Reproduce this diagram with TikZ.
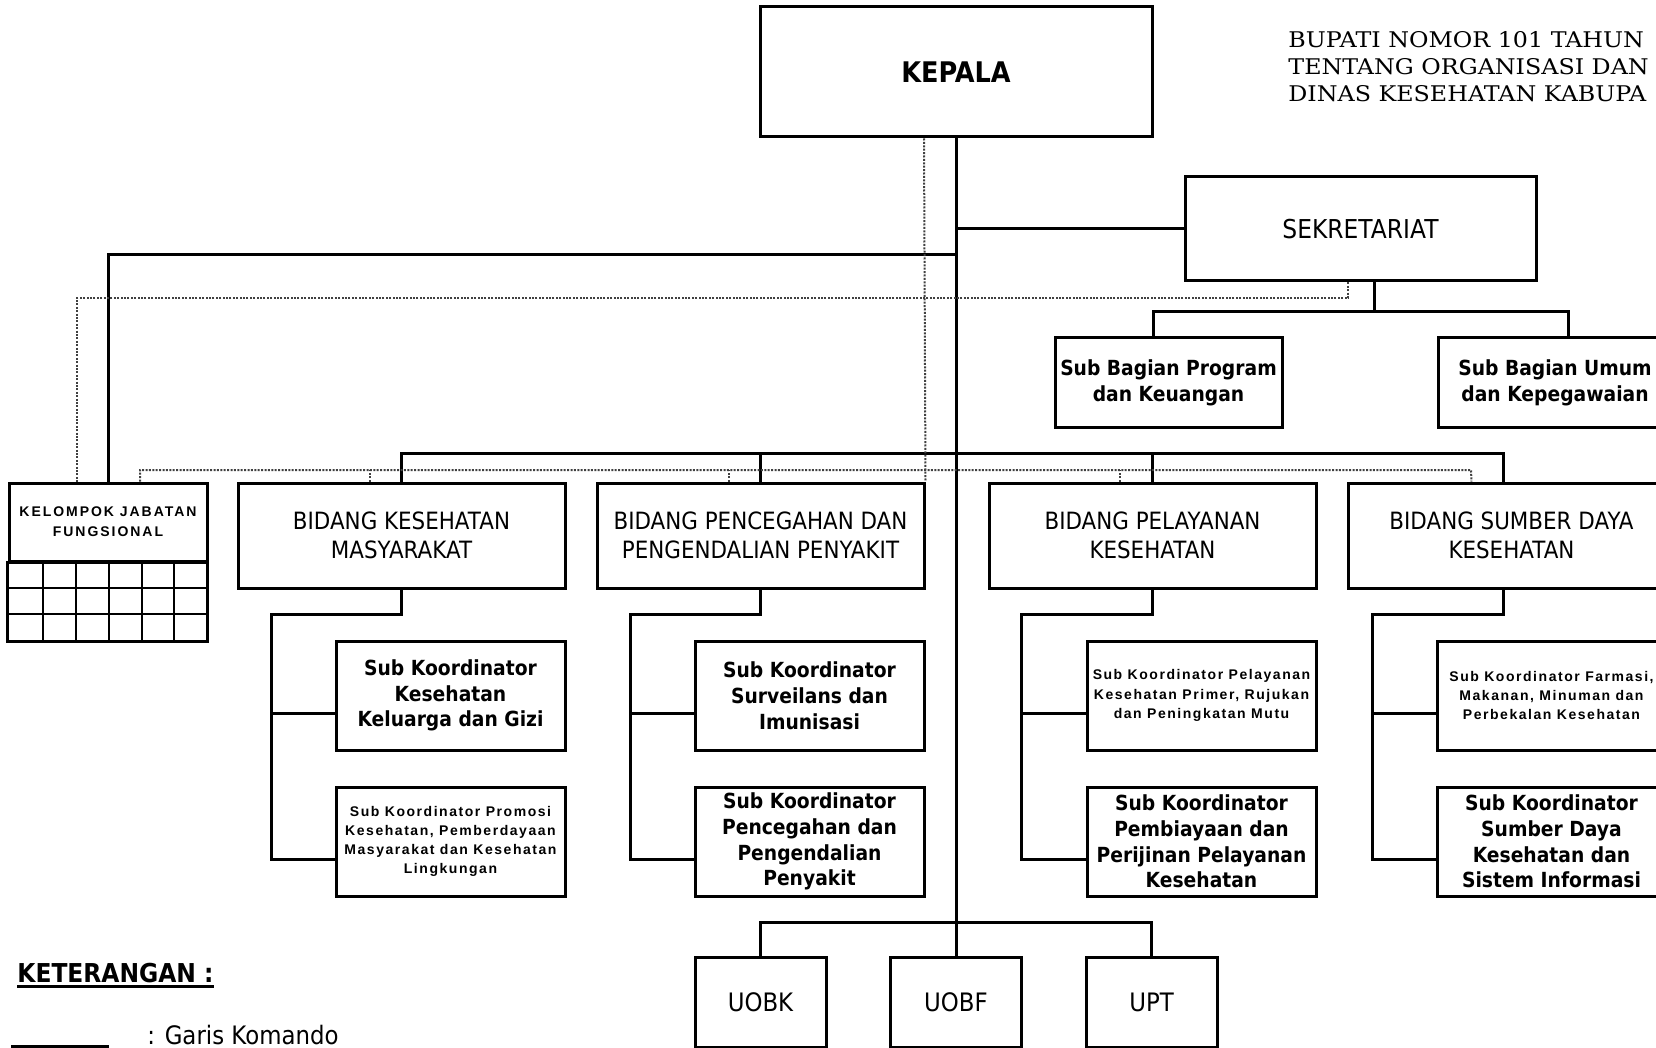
\documentclass[tikz,border=0pt]{standalone}
\usepackage{fontspec}
\setmainfont{DejaVu Sans}[FakeStretch=0.9]
\newfontfamily\spasifont{Liberation Sans}[LetterSpace=11]
\newfontfamily\kjffont{Liberation Sans}[LetterSpace=14]
\newfontfamily\kopfont{DejaVu Serif}[FakeStretch=1.1]

\begin{document}
\begin{tikzpicture}[x=0.5pt,y=-0.5pt,
 kotak/.style={draw,line width=1.5pt,inner sep=1pt,align=center},
 bidang/.style={kotak,minimum width=163.5pt,minimum height=52.5pt,font=\fontsize{11.9}{14.3}\selectfont},
 subkor/.style={kotak,minimum width=114.5pt,minimum height=54.5pt,font=\fontsize{10.4}{12.9}\selectfont\bfseries},
 subkecil/.style={kotak,minimum width=114.5pt,minimum height=54.5pt,font=\spasifont\fontsize{7}{9.6}\selectfont\bfseries},
 unit/.style={kotak,minimum width=65.5pt,minimum height=45pt,font=\fontsize{12.7}{15}\selectfont},
 komando/.style={line width=1.5pt},
 koordinasi/.style={line width=1pt,black!75,dash pattern=on 1pt off 0.7pt}]
 \useasboundingbox (0,0) rectangle (1656,1048);
 \clip (0,0) rectangle (1656,1048);

 % pimpinan dan sekretariat
 \node[kotak,minimum width=196pt,minimum height=65pt,font=\fontsize{14.2}{17}\selectfont\bfseries] (kepala) at (956,72) {KEPALA};
 \node[kotak,minimum width=175.5pt,minimum height=52pt,font=\fontsize{13}{15}\selectfont] (sekretariat) at (1360.5,229) {SEKRETARIAT};
 \node[subkor,minimum width=113.5pt,minimum height=45pt,font=\fontsize{10.4}{13}\selectfont\bfseries] (subprogram) at (1168.5,383) {Sub Bagian Program\\dan Keuangan};
 \node[subkor,minimum width=117pt,minimum height=45pt,font=\fontsize{10.4}{13}\selectfont\bfseries] (subumum) at (1555,383) {Sub Bagian Umum\\dan Kepegawaian};

 % bidang
 \node[kotak,minimum width=99pt,minimum height=39pt,font=\kjffont\fontsize{7}{10}\selectfont\bfseries] (kjf) at (108,522) {KELOMPOK JABATAN\\FUNGSIONAL};
 \node[bidang] (bkm) at (401.5,535.5) {BIDANG KESEHATAN\\MASYARAKAT};
 \node[bidang] (bp2p) at (760.5,535.5) {BIDANG PENCEGAHAN DAN\\PENGENDALIAN PENYAKIT};
 \node[bidang] (byankes) at (1152.5,535.5) {BIDANG PELAYANAN\\KESEHATAN};
 \node[bidang] (bsdk) at (1511.5,535.5) {BIDANG SUMBER DAYA\\KESEHATAN};

 % sub koordinator
 \node[subkor] (kmgizi) at (450.5,695.5) {Sub Koordinator\\Kesehatan\\Keluarga dan Gizi};
 \node[subkecil] (kmpromkes) at (450.5,841.5) {Sub Koordinator Promosi\\Kesehatan, Pemberdayaan\\Masyarakat dan Kesehatan\\Lingkungan};
 \node[subkor] (p2surv) at (809.5,695.5) {Sub Koordinator\\Surveilans dan\\Imunisasi};
 \node[subkor] (p2cegah) at (809.5,841.5) {Sub Koordinator\\Pencegahan dan\\Pengendalian\\Penyakit};
 \node[subkecil] (yanprimer) at (1201.5,695.5) {Sub Koordinator Pelayanan\\Kesehatan Primer, Rujukan\\dan Peningkatan Mutu};
 \node[subkor] (yanbiaya) at (1201.5,841.5) {Sub Koordinator\\Pembiayaan dan\\Perijinan Pelayanan\\Kesehatan};
 \node[subkecil] (sdfarmasi) at (1551.5,695.5) {Sub Koordinator Farmasi,\\Makanan, Minuman dan\\Perbekalan Kesehatan};
 \node[subkor] (sdinfo) at (1551.5,841.5) {Sub Koordinator\\Sumber Daya\\Kesehatan dan\\Sistem Informasi};

 % unit
 \node[unit] (uobk) at (760.5,1002) {UOBK};
 \node[unit] (uobf) at (956,1002) {UOBF};
 \node[unit] (upt) at (1151.5,1002) {UPT};

 % tabel jabatan fungsional
 \draw[komando] (kjf.south west) rectangle (207,641);
 \foreach \x in {43,76,109,142,174} \draw[line width=1.3pt] (\x,561) -- (\x,641);
 \foreach \y in {588,614} \draw[line width=1.3pt] (9,\y) -- (207,\y);

 % garis komando
 \coordinate (kiri) at (956,255);
 \coordinate (sekbus) at (1374,312);
 \coordinate (busbidang) at (956,454);
 \coordinate (busbawah) at (956,922);
 \draw[komando] (kepala.south) -- (uobf.north);
 \draw[komando] (kepala.south |- sekretariat.west) -- (sekretariat.west);
 \draw[komando] (kiri) -| (kjf.north);
 \draw[komando] ([xshift=6.75pt]sekretariat.south) -- (sekbus);
 \draw[komando] ([xshift=-7.75pt]subprogram.north) |- (sekbus) -| ([xshift=6.5pt]subumum.north);
 \draw[komando] (bkm.north) |- (busbidang) -| ([xshift=-4.25pt]bsdk.north);
 \draw[komando] (bp2p.north) -- (bp2p.north |- busbidang);
 \draw[komando] (byankes.north) -- (byankes.north |- busbidang);
 \draw[komando] (uobk.north) |- (busbawah) -| (upt.north);

 \coordinate (tkm) at (271,614);
 \coordinate (tp2) at (630,614);
 \coordinate (tyan) at (1021,614);
 \coordinate (tsd) at (1372,614);
 \path ([yshift=-8.75pt]kmgizi.west) coordinate (kmgizi-in)
  ([yshift=-8.75pt]kmpromkes.west) coordinate (kmpromkes-in)
  ([yshift=-8.75pt]p2surv.west) coordinate (p2surv-in)
  ([yshift=-8.75pt]p2cegah.west) coordinate (p2cegah-in)
  ([yshift=-8.75pt]yanprimer.west) coordinate (yanprimer-in)
  ([yshift=-8.75pt]yanbiaya.west) coordinate (yanbiaya-in)
  ([yshift=-8.75pt]sdfarmasi.west) coordinate (sdfarmasi-in)
  ([yshift=-8.75pt]sdinfo.west) coordinate (sdinfo-in);
 \draw[komando] (bkm.south) |- (tkm) |- (kmpromkes-in);
 \draw[komando] (tkm |- kmgizi-in) -- (kmgizi-in);
 \draw[komando] (bp2p.south) |- (tp2) |- (p2cegah-in);
 \draw[komando] (tp2 |- p2surv-in) -- (p2surv-in);
 \draw[komando] (byankes.south) |- (tyan) |- (yanbiaya-in);
 \draw[komando] (tyan |- yanprimer-in) -- (yanprimer-in);
 \draw[komando] ([xshift=-4.25pt]bsdk.south) |- (tsd) |- (sdinfo-in);
 \draw[komando] (tsd |- sdfarmasi-in) -- (sdfarmasi-in);

 % garis koordinasi
 \coordinate (koorsek) at (77,298);
 \coordinate (koorbid) at (1471,470);
 \draw[koordinasi] ([xshift=-16pt]kepala.south) -- (bp2p.north east);
 \draw[koordinasi] ([xshift=-6.25pt]sekretariat.south) |- (koorsek) -- ([xshift=-15.5pt]kjf.north);
 \draw[koordinasi] ([xshift=16pt]kjf.north) |- (koorbid) -- ([xshift=-20pt]bsdk.north);
 \path ([xshift=-15.75pt]bkm.north) coordinate (kbkm)
  ([xshift=-15.75pt]bp2p.north) coordinate (kbp2p)
  ([xshift=-16.25pt]byankes.north) coordinate (kbyan);
 \draw[koordinasi] (kbkm) -- (kbkm |- koorbid) (kbp2p) -- (kbp2p |- koorbid) (kbyan) -- (kbyan |- koorbid);

 % keterangan
 \node[anchor=base west,inner sep=0pt,font=\fontsize{13}{15}\selectfont\bfseries] (keterangan) at (17,982) {KETERANGAN :};
 \draw[komando] ([yshift=-2pt]keterangan.base west) -- ([yshift=-2pt]keterangan.base east);
 \coordinate (lg1) at (11,1046);
 \coordinate (lg2) at (109,1046);
 \draw[komando] (lg1) -- (lg2);
 \node[anchor=base west,inner sep=0pt,font=\fontsize{12.7}{15}\selectfont] (lgkomando) at (147,1044) {: Garis Komando};

 \node[anchor=west,align=left,inner sep=0pt,font=\kopfont\fontsize{10.8}{13.5}\selectfont] (kop) at (1288,67) {BUPATI NOMOR 101 TAHUN\\TENTANG ORGANISASI DAN\\DINAS KESEHATAN KABUPA};
\end{tikzpicture}
\end{document}
